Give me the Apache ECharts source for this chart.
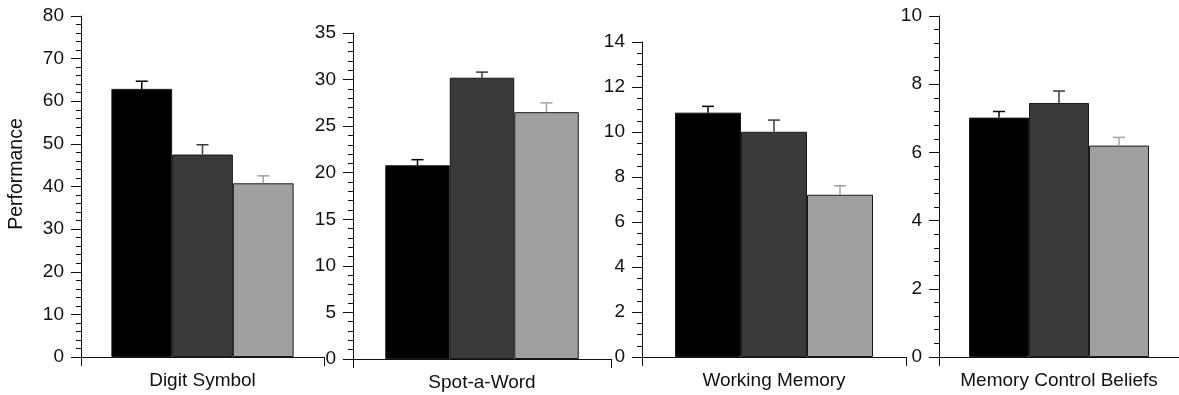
<!DOCTYPE html>
<html>
<head>
<meta charset="utf-8">
<script src="https://cdn.jsdelivr.net/npm/echarts@6/dist/echarts.min.js"></script>
<style>html,body{margin:0;padding:0;background:#fff}#c{width:1179px;height:395px}</style>
</head>
<body>
<div id="c"></div>
<script>
// ---- data ----
const categories = ['Digit Symbol', 'Spot-a-Word', 'Working Memory', 'Memory Control Beliefs'];
const group1Means = [62.9, 20.8, 10.86, 7.02];
const group1Err   = [1.8, 0.6, 0.28, 0.18];
const group2Means = [47.5, 30.2, 10.01, 7.45];
const group2Err   = [2.3, 0.6, 0.52, 0.35];
const group3Means = [40.75, 26.5, 7.21, 6.2];
const group3Err   = [1.75, 1.0, 0.4, 0.24];
const yMax = [80, 35, 14, 10];
const yInterval = [10, 5, 2, 2];
const yMinorSplit = [5, 5, 4, 5];
const yTitle = 'Performance';

// ---- style ----
const FONT = 'Liberation Sans, Arial, sans-serif';
const fills = ['#000000', '#3a3a3a', '#a0a0a0'];
const errColors = ['#000000', '#3a3a3a', '#a4a4a4'];
const grids = [
  {left: 81, top: 16, width: 243, height: 341},
  {left: 353, top: 33, width: 258, height: 326},
  {left: 642, top: 42, width: 264, height: 315},
  {left: 939, top: 16, width: 245, height: 341}
];
const means = [group1Means, group2Means, group3Means];
const errs = [group1Err, group2Err, group3Err];

const xAxis = [], yAxis = [], series = [];
categories.forEach((cat, i) => {
  xAxis.push({
    type: 'category', gridIndex: i, data: [cat],
    axisLine: {lineStyle: {color: '#111', width: 1}},
    axisTick: {show: true, length: 9, lineStyle: {color: '#111'}},
    axisLabel: {interval: 0, fontSize: 19, fontFamily: FONT, color: '#111', margin: 14}
  });
  yAxis.push({
    type: 'value', gridIndex: i, min: 0, max: yMax[i], interval: yInterval[i],
    axisLine: {show: true, lineStyle: {color: '#111', width: 1}},
    axisTick: {show: true, length: 10, lineStyle: {color: '#111'}},
    minorTick: {show: true, splitNumber: yMinorSplit[i], length: 5, lineStyle: {color: '#111'}},
    splitLine: {show: false},
    axisLabel: {fontSize: 19, fontFamily: FONT, color: '#111', margin: 17}
  });
  for (let k = 0; k < 3; k++) {
    series.push({
      type: 'bar', xAxisIndex: i, yAxisIndex: i, name: 'Group ' + (k + 1),
      data: [means[k][i]],
      barGap: '0%', barCategoryGap: '25%',
      itemStyle: {color: fills[k], borderColor: '#1a1a1a', borderWidth: 1},
      emphasis: {disabled: true}, silent: true
    });
  }
  series.push({
    type: 'custom', xAxisIndex: i, yAxisIndex: i, silent: true, clip: false, z: 5,
    encode: {x: 0, y: 2},
    data: [0, 1, 2].map(k => [0, means[k][i], means[k][i] + errs[k][i], k]),
    renderItem: function (params, api) {
      const m = api.value(1), up = api.value(2), k = api.value(3);
      const bw = api.size([1, 0])[0];
      const base = api.coord([0, m]);
      const top = api.coord([0, up]);
      const x = base[0] + (k - 1) * bw * 0.25;
      const style = {stroke: errColors[k], lineWidth: 1.5, fill: null};
      return {
        type: 'group',
        children: [
          {type: 'line', shape: {x1: x, y1: base[1], x2: x, y2: top[1]}, style: style},
          {type: 'line', shape: {x1: x - 6, y1: top[1], x2: x + 6, y2: top[1]}, style: style}
        ]
      };
    }
  });
});

const chart = echarts.init(document.getElementById('c'), null, {renderer: 'canvas'});
chart.setOption({
  animation: false,
  backgroundColor: '#fff',
  grid: grids,
  xAxis: xAxis,
  yAxis: yAxis,
  series: series,
  graphic: [{
    type: 'text', x: 17, y: 174, rotation: Math.PI / 2,
    style: {text: yTitle, font: '19.5px ' + FONT, fill: '#111', align: 'center', verticalAlign: 'middle'}
  }]
});
</script>
</body>
</html>
